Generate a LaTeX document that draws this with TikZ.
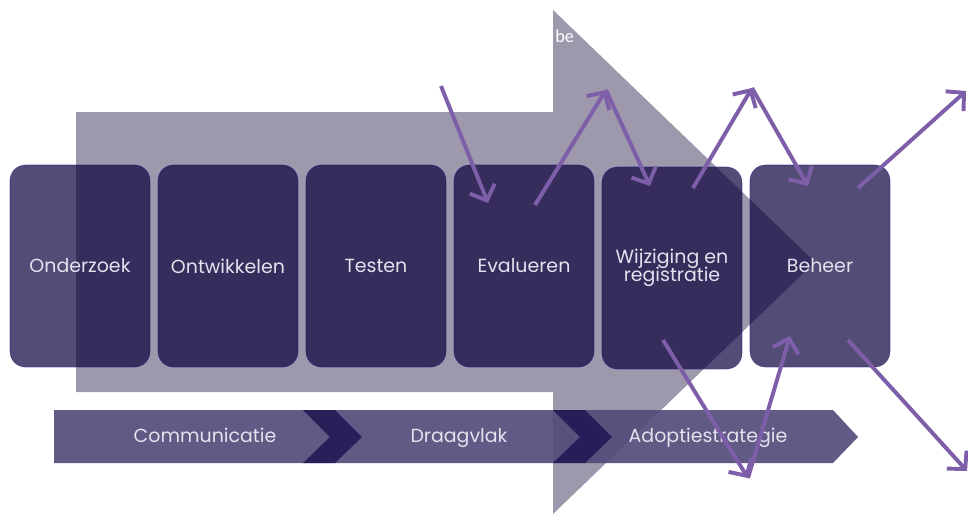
\documentclass[tikz,border=0pt]{standalone}
\usepackage{fontspec}
\setmainfont{Poppins}
\newfontfamily\notefont{Carlito}
\usetikzlibrary{arrows.meta}
\definecolor{arrowgray}{RGB}{158,152,172}
\definecolor{stepfill}{RGB}{10,0,60}
\definecolor{bandfill}{RGB}{84,76,122}
\definecolor{bandfold}{RGB}{30,22,82}
\definecolor{linkpurple}{RGB}{126,94,168}
\definecolor{textwhite}{RGB}{228,226,238}
\tikzstyle{stepbox}=[rectangle,rounded corners=11pt,fill=stepfill,fill opacity=0.7,draw=stepfill!60!blue,draw opacity=0.4,text opacity=1,minimum width=3.5cm,minimum height=5.05cm,inner sep=0pt,text=textwhite,align=center,font=\fontsize{13.5}{15}\selectfont]
\tikzstyle{bandlabel}=[text=textwhite,inner sep=0pt,text height=1.6ex,text depth=0.3ex,font=\fontsize{13.5}{15}\selectfont]
\tikzstyle{link}=[draw=linkpurple,line width=2.8pt,-{Straight Barb[length=9pt,width=19pt]}]

\begin{document}
\begin{tikzpicture}[x=0.025cm,y=-0.025cm]
   \useasboundingbox (0,0) rectangle (968,515);

   % big process arrow
   \fill[arrowgray] (76,112) -- (553,112) -- (553,10) -- (815,262) -- (553,514) -- (553,392) -- (76,392) -- cycle;
   \node[anchor=west,text=white,inner sep=0pt,font=\notefont\fontsize{13}{14}\selectfont] (be) at (555,36) {be};

    \foreach \pos/ \name / \label in {{(80,266)/onderzoek/Onderzoek}, {(228,266)/ontwikkelen/Ontwikkelen},
        {(376,266)/testen/Testen}, {(524,266)/evalueren/Evalueren},
        {(672,268)/wijziging/Wijziging en\\[-2pt]registratie}, {(820,266)/beheer/Beheer}}
        \node[stepbox] (\name) at \pos {\label};

   % bottom chevron band
   \fill[bandfill,fill opacity=0.92] (54,410) -- (833,410) -- (858,437) -- (833,463) -- (54,463) -- cycle;
   \fill[bandfold,fill opacity=0.85] (303,410) -- (335,410) -- (362,437) -- (335,463) -- (303,463) -- (330,437) -- cycle;
   \fill[bandfold,fill opacity=0.85] (553,410) -- (585,410) -- (612,437) -- (585,463) -- (553,463) -- (580,437) -- cycle;
    \foreach \pos/ \name / \label in {{(205,437)/communicatie/Communicatie}, {(459,437)/draagvlak/Draagvlak},
        {(708,437)/adoptie/Adoptiestrategie}}
        \node[bandlabel] (\name) at \pos {\label};

   % purple arrows
   \coordinate (a1) at (441,86);  \coordinate (a2) at (488,203);
   \coordinate (b1) at (535,205); \coordinate (b2) at (606,90);
   \coordinate (c2) at (650,186);
   \coordinate (d1) at (693,188); \coordinate (d2) at (752,88);
   \coordinate (e2) at (808,186);
   \coordinate (f1) at (858,188); \coordinate (f2) at (966,91);
   \coordinate (g1) at (663,340); \coordinate (g2) at (748,478);
   \coordinate (h2) at (790,336);
   \coordinate (i1) at (848,340); \coordinate (i2) at (967,471);

   \draw[link] (a1) -- (a2);
   \draw[link] (b1) -- (b2);
   \draw[link] (b2) -- (c2);
   \draw[link] (d1) -- (d2);
   \draw[link] (d2) -- (e2);
   \draw[link] (f1) -- (f2);
   \draw[link] (g1) -- (g2);
   \draw[link] (g2) -- (h2);
   \draw[link] (i1) -- (i2);
\end{tikzpicture}
\end{document}
